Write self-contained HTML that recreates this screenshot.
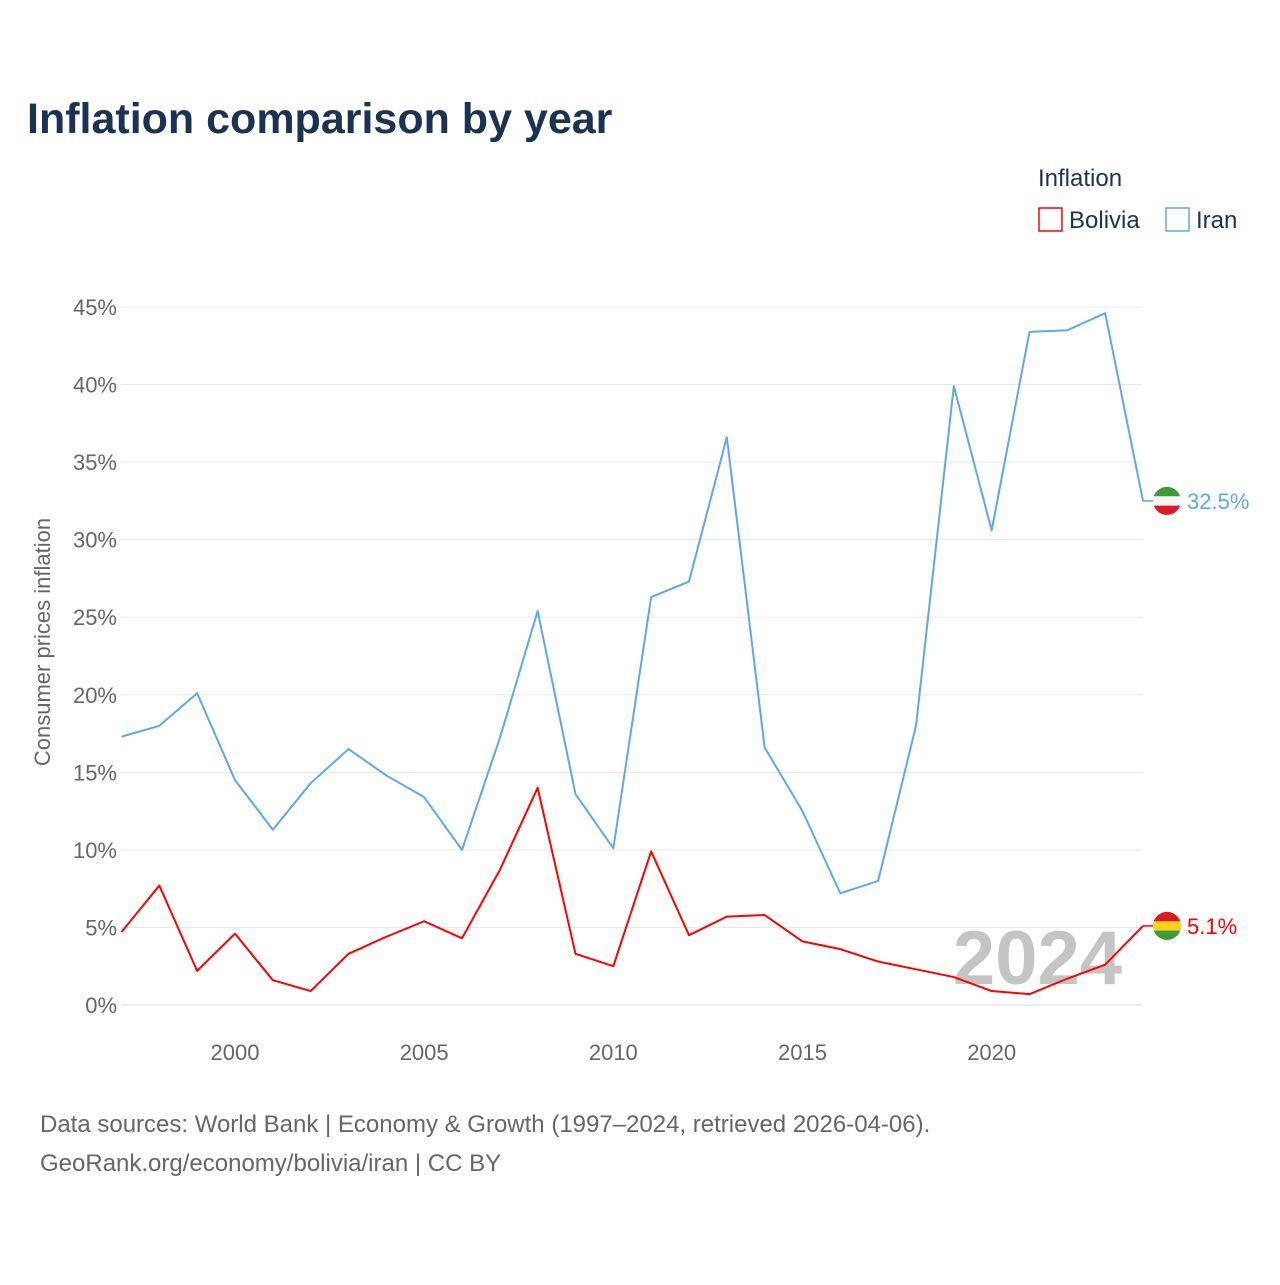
<!DOCTYPE html>
<html><head><meta charset="utf-8"><style>
body{margin:0;background:#fff;}
svg text{font-family:"Liberation Sans",sans-serif;}
</style></head><body>
<svg width="1280" height="1280" viewBox="0 0 1280 1280">
<text x="27" y="133" font-size="43" font-weight="bold" fill="#1b3352">Inflation comparison by year</text>
<text x="1038" y="186" font-size="24" fill="#1b3352">Inflation</text>
<g><rect x="1039" y="208" width="23" height="23" fill="#fff" stroke="#f00" stroke-width="1.5"/><text x="1069" y="228" font-size="24" fill="#1b3352">Bolivia</text></g>
<g><rect x="1166" y="208" width="23" height="23" fill="#fff" stroke="#5ea8ea" stroke-width="1.5"/><text x="1196" y="228" font-size="24" fill="#1b3352">Iran</text></g>
<g id="grid"></g>
<g id="yt"></g>
<g id="xt"></g>
<text transform="translate(50,642) rotate(-90)" text-anchor="middle" font-size="22" fill="#666">Consumer prices inflation</text>
<text x="1122" y="984" text-anchor="end" font-size="76" font-weight="bold" fill="#c4c4c4">2024</text>
<g id="series"></g>
<text x="40" y="1132" font-size="24" fill="#666">Data sources: World Bank | Economy &amp; Growth (1997–2024, retrieved 2026-04-06).</text>
<text x="40" y="1171" font-size="24" fill="#666">GeoRank.org/economy/bolivia/iran | CC BY</text>
</svg>
<script>
const years=[1997,1998,1999,2000,2001,2002,2003,2004,2005,2006,2007,2008,2009,2010,2011,2012,2013,2014,2015,2016,2017,2018,2019,2020,2021,2022,2023,2024];
const iran=[17.3,18.0,20.1,14.5,11.3,14.3,16.5,14.8,13.4,10.0,17.2,25.4,13.6,10.1,26.3,27.3,36.6,16.6,12.5,7.2,8.0,18.0,39.9,30.6,43.4,43.5,44.6,32.5];
const bolivia=[4.7,7.7,2.2,4.6,1.6,0.9,3.3,4.4,5.4,4.3,8.7,14.0,3.3,2.5,9.9,4.5,5.7,5.8,4.1,3.6,2.8,2.3,1.8,0.9,0.7,1.7,2.6,5.1];
const yTicks=[0,5,10,15,20,25,30,35,40,45];
const xTicks=[2000,2005,2010,2015,2020];
const NS='http://www.w3.org/2000/svg';
const X=y=>121.5+(y-1997)*(1143-121.5)/27;
const Y=v=>1005-v*(1005-307)/45;
function mk(t,a,p){const e=document.createElementNS(NS,t);for(const k in a)e.setAttribute(k,a[k]);p.appendChild(e);return e;}
const grid=document.getElementById('grid'),yt=document.getElementById('yt'),xt=document.getElementById('xt'),ser=document.getElementById('series');
yTicks.forEach(v=>{
 const l=mk('line',{x1:121,x2:1142,y1:Y(v),y2:Y(v),stroke:v===0?'#ddd':'#e8e8e8','stroke-width':1},grid);
 
 
 const t=mk('text',{x:117,y:Y(v)+8,'text-anchor':'end','font-size':22,fill:'#666'},yt);
 t.textContent=v+'%';
 
 
});
xTicks.forEach(v=>{
 const t=mk('text',{x:X(v),y:1060,'text-anchor':'middle','font-size':22,fill:'#666'},xt);
 t.textContent=v;
 
 
});
function series(vals,color,name,label,flagTop,flagMid,flagBot){
 const pts=vals.map((v,i)=>X(years[i])+','+Y(v)).join(' ');
 const p=mk('polyline',{points:pts,fill:'none',stroke:color,'stroke-width':2,'stroke-linejoin':'round'},ser);
 
 
 const last=vals[vals.length-1],ly=Y(last);
 mk('line',{x1:1143,x2:1153,y1:ly,y2:ly,stroke:color,'stroke-width':1.5},ser);
 const g=mk('g',{},ser);
 
 
 const r=14,h=4.7,dx=Math.sqrt(r*r-h*h);
 mk('circle',{cx:1167,cy:ly,r:r,fill:flagMid},g);
 mk('path',{d:`M${1167-dx},${ly-h} A${r},${r} 0 0 1 ${1167+dx},${ly-h} Z`,fill:flagTop},g);
 mk('path',{d:`M${1167-dx},${ly+h} A${r},${r} 0 0 0 ${1167+dx},${ly+h} Z`,fill:flagBot},g);
 const t=mk('text',{x:1187,y:ly+8,'font-size':22,fill:color},ser);
 t.textContent=label;
 
 
}
series(iran,'#5ea8ea','iran',iran[iran.length-1].toFixed(1)+'%','#3f9a3a','#f4f4f4','#da1a2a');
series(bolivia,'#f00','bolivia',bolivia[bolivia.length-1].toFixed(1)+'%','#da1a2a','#f6d21a','#3f9a3a');
</script>
</body></html>
